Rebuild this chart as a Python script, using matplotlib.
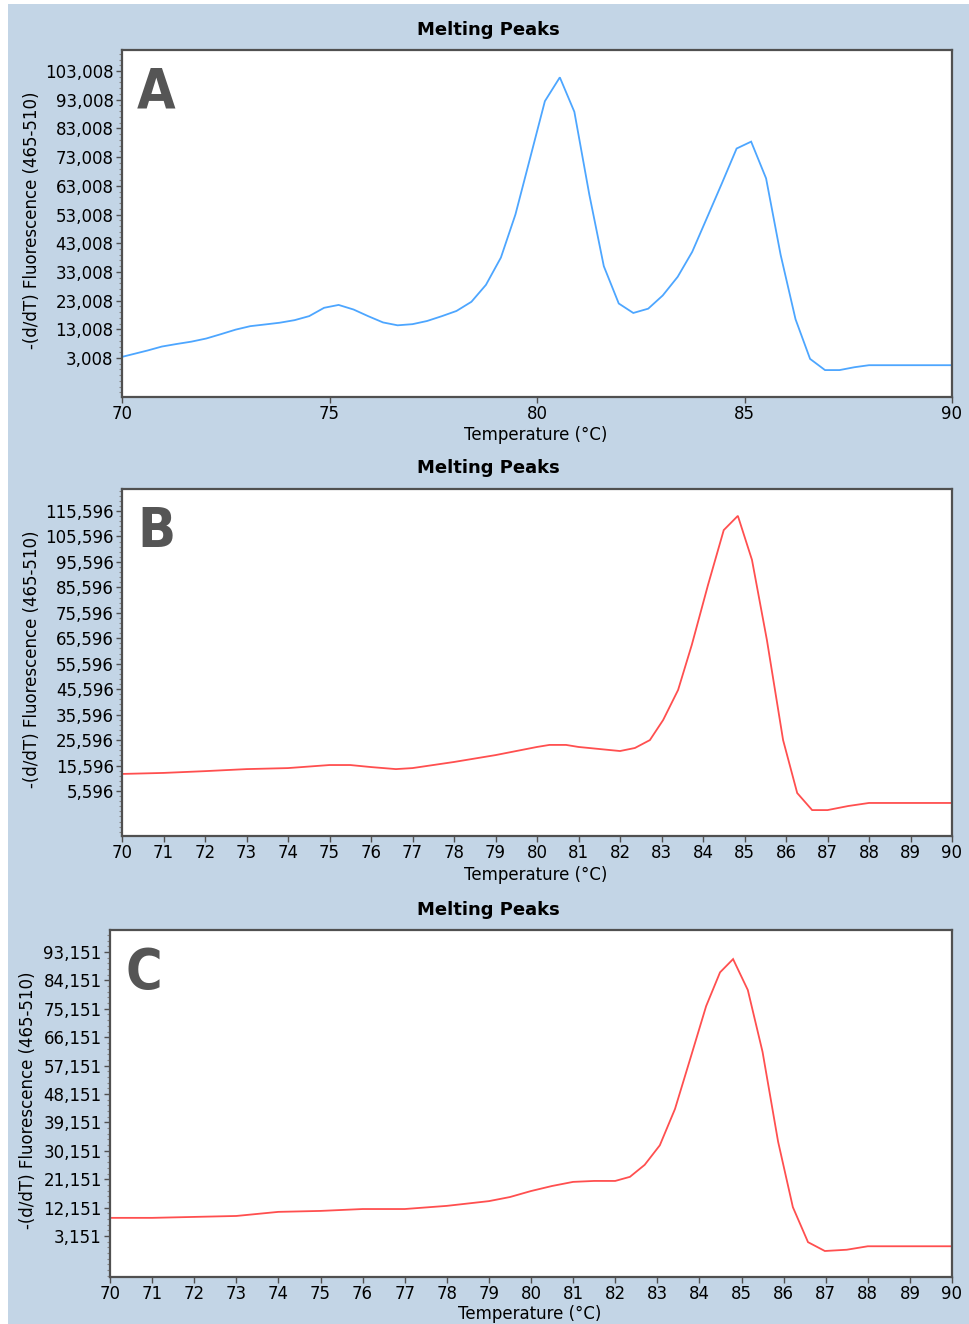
import matplotlib
matplotlib.use("Agg")
import matplotlib.pyplot as plt
from matplotlib.patches import Rectangle
from matplotlib.ticker import FixedLocator, AutoMinorLocator

# ---- data ----
temp_a = [70.0, 70.25, 70.61, 70.96, 71.32, 71.67, 72.03, 72.38, 72.74, 73.09, 73.45,
          73.8, 74.16, 74.51, 74.87, 75.22, 75.58, 75.93, 76.29, 76.64, 77.0, 77.35,
          77.71, 78.06, 78.42, 78.77, 79.13, 79.48, 79.84, 80.19, 80.55, 80.9, 81.26,
          81.61, 81.97, 82.32, 82.68, 83.03, 83.39, 83.74, 84.1, 84.45, 84.81, 85.16,
          85.52, 85.87, 86.23, 86.58, 86.94, 87.29, 87.65, 88.0, 90.0]
peak_a = [3400, 4300, 5600, 7000, 7900, 8700, 9800, 11300, 12900, 14100, 14700,
          15300, 16200, 17600, 20500, 21500, 19900, 17600, 15400, 14400, 14800, 15900,
          17600, 19400, 22600, 28500, 38000, 53000, 73000, 92500, 100800, 88800, 60000,
          35000, 22000, 18700, 20200, 24800, 31300, 40000, 52000, 63700, 76000, 78400,
          65600, 39000, 16500, 2700, -1200, -1200, -200, 500, 500]

temp_b = [70.0, 71.0, 72.0, 73.0, 74.0, 75.0, 75.5, 76.0, 76.6, 77.0, 78.0, 79.0,
          80.0, 80.3, 80.7, 81.0, 81.5, 82.0, 82.36, 82.72, 83.04, 83.4, 83.73, 84.12,
          84.5, 84.84, 85.18, 85.54, 85.93, 86.27, 86.63, 87.0, 87.5, 88.0, 90.0]
peak_b = [12300, 12700, 13400, 14200, 14600, 15800, 15800, 15000, 14200, 14600, 17000,
          19700, 22900, 23700, 23700, 22900, 22100, 21300, 22500, 25600, 33500, 45300,
          63000, 86500, 108100, 113700, 96400, 64900, 25600, 4800, -1900, -1900, -300,
          900, 900]

temp_c = [70.0, 71.0, 72.0, 73.0, 74.0, 75.0, 76.0, 77.0, 78.0, 79.0, 79.5, 80.0,
          80.5, 81.0, 81.5, 82.0, 82.35, 82.7, 83.06, 83.42, 83.78, 84.16, 84.49,
          84.8, 85.15, 85.5, 85.87, 86.22, 86.58, 86.98, 87.5, 88.0, 90.0]
peak_c = [8900, 8900, 9200, 9500, 10800, 11100, 11700, 11700, 12700, 14200, 15500,
          17400, 19000, 20300, 20600, 20600, 21900, 25700, 31900, 43400, 59200, 76000,
          86700, 90900, 81100, 61500, 33000, 12300, 1200, -1600, -1200, -100, -100]

yticks_a = list(range(3008, 103009, 10000))
yticks_b = list(range(5596, 115597, 10000))
yticks_c = list(range(3151, 93152, 9000))

W, H = 969, 1324
BG = "#c3d5e6"
EDGE = "#505050"

fig = plt.figure(figsize=(W / 100, H / 100), dpi=100)
fig.patch.set_facecolor("white")
fig.patches.append(Rectangle((8 / W, 0), 1 - 8 / W, 1 - 4 / H, transform=fig.transFigure,
                             facecolor=BG, edgecolor="none", zorder=-10))


def px_axes(left, top, right, bottom):
    return fig.add_axes([left / W, 1 - bottom / H, (right - left) / W, (bottom - top) / H])


def panel(ax, x, y, color, yticks, ylim, xmajor, letter, title_y, xlabel_y, ylabel_x, xcenter):
    ax.plot(x, y, color=color, lw=1.3, solid_joinstyle="miter")
    ax.set_xlim(70, 90)
    ax.set_ylim(*ylim)
    ax.set_facecolor("white")
    for s in ax.spines.values():
        s.set_color(EDGE)
        s.set_linewidth(1.6)
    ax.xaxis.set_major_locator(FixedLocator(list(range(70, 91, xmajor))))
    ax.yaxis.set_major_locator(FixedLocator(yticks))
    ax.set_yticklabels([f"{v:,}" for v in yticks])
    ax.yaxis.set_minor_locator(AutoMinorLocator(5))
    ax.tick_params(axis="both", which="major", length=4, width=1, color=EDGE,
                   labelsize=12, pad=2)
    ax.tick_params(axis="y", which="minor", length=2, width=0.8, color="#888888")
    ax.text(0.018, 0.955, letter, transform=ax.transAxes, ha="left", va="top",
            fontsize=40, fontweight="bold", fontstretch="condensed", color="#555555",
            family="DejaVu Sans")
    fig.text(488 / W, 1 - title_y / H, "Melting Peaks", ha="center", va="center",
             fontsize=13, fontweight="bold")
    fig.text(xcenter / W, 1 - xlabel_y / H, "Temperature (°C)", ha="center", va="center",
             fontsize=12)
    bb = ax.get_position()
    fig.text(ylabel_x / W, bb.y0 + bb.height * 0.51, "-(d/dT) Fluorescence (465-510)",
             ha="center", va="center", rotation=90, fontsize=12)


ax_a = px_axes(122, 50, 952, 397)
panel(ax_a, temp_a, peak_a, "#4da6ff", yticks_a, (-10580, 110330), 5, "A", 30, 435, 32, 536)

ax_b = px_axes(122, 489, 952, 836)
panel(ax_b, temp_b, peak_b, "#ff4f4f", yticks_b, (-12080, 124240), 1, "B", 468, 875, 32, 536)

ax_c = px_axes(110, 930, 952, 1277)
panel(ax_c, temp_c, peak_c, "#ff4f4f", yticks_c, (-9840, 100120), 1, "C", 910, 1314, 28, 530)

fig.savefig("out.png", dpi=100, facecolor=fig.get_facecolor())
